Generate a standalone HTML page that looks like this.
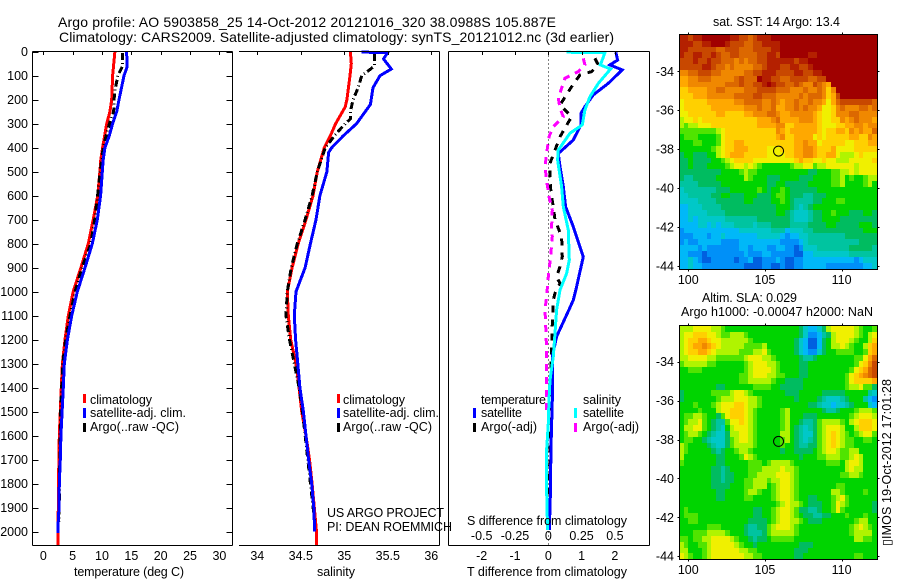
<!DOCTYPE html>
<html>
<head>
<meta charset="utf-8">
<style>
html,body{margin:0;padding:0;background:#fff;}
svg{display:block;font-family:"Liberation Sans",Arial,sans-serif;font-size:12.5px;fill:#000;}
.ln{fill:none;stroke-linejoin:miter;shape-rendering:crispEdges;}
.ax{stroke:#000;stroke-width:1;fill:none;shape-rendering:crispEdges;}
</style>
</head>
<body>
<svg id="chart" xmlns="http://www.w3.org/2000/svg" width="900" height="580" viewBox="0 0 900 580">
<rect width="900" height="580" fill="#fff"/>
<text x="58" y="27" font-size="14" textLength="498" lengthAdjust="spacing">Argo profile: AO 5903858_25 14-Oct-2012 20121016_320 38.0988S 105.887E</text>
<text x="59" y="42" font-size="14" textLength="555" lengthAdjust="spacing">Climatology: CARS2009. Satellite-adjusted climatology: synTS_20121012.nc (3d earlier)</text>
<g id="maps"></g>
<g id="panels"></g>
<g id="ticks"></g>

<text x="74" y="576" textLength="110" lengthAdjust="spacing">temperature (deg C)</text>
<text x="317" y="576" textLength="38" lengthAdjust="spacing">salinity</text>
<text x="467" y="576" textLength="160" lengthAdjust="spacing">T difference from climatology</text>
<text x="467" y="525" textLength="160" lengthAdjust="spacing">S difference from climatology</text>

<g>
<rect x="83" y="394" width="3" height="9" fill="#f00"/>
<rect x="83" y="408" width="3" height="10" fill="#00f"/>
<rect x="83" y="423" width="3" height="9" fill="#000"/>
<text x="90" y="404" textLength="62" lengthAdjust="spacing">climatology</text>
<text x="90" y="417" textLength="96" lengthAdjust="spacing">satellite-adj. clim.</text>
<text x="90" y="431" textLength="89" lengthAdjust="spacing">Argo(..raw -QC)</text>
</g>
<g>
<rect x="337" y="394" width="3" height="9" fill="#f00"/>
<rect x="337" y="408" width="3" height="10" fill="#00f"/>
<rect x="337" y="423" width="3" height="9" fill="#000"/>
<text x="343" y="404" textLength="62" lengthAdjust="spacing">climatology</text>
<text x="343" y="417" textLength="96" lengthAdjust="spacing">satellite-adj. clim.</text>
<text x="343" y="431" textLength="89" lengthAdjust="spacing">Argo(..raw -QC)</text>
</g>
<text x="327" y="517" textLength="117" lengthAdjust="spacing">US ARGO PROJECT</text>
<text x="327" y="531" textLength="125" lengthAdjust="spacing">PI: DEAN ROEMMICH</text>
<g>
<text x="481" y="404" textLength="65" lengthAdjust="spacing">temperature</text>
<text x="583" y="404" textLength="38" lengthAdjust="spacing">salinity</text>
<rect x="473" y="408" width="3" height="10" fill="#00f"/>
<rect x="473" y="423" width="3" height="9" fill="#000"/>
<rect x="574" y="408" width="3" height="10" fill="#0ff"/>
<rect x="574" y="423" width="3" height="9" fill="#f0f"/>
<text x="481" y="417" textLength="41" lengthAdjust="spacing">satellite</text>
<text x="481" y="431" textLength="56" lengthAdjust="spacing">Argo(-adj)</text>
<text x="583" y="417" textLength="41" lengthAdjust="spacing">satellite</text>
<text x="583" y="431" textLength="56" lengthAdjust="spacing">Argo(-adj)</text>
</g>

<text x="713" y="26" textLength="127" lengthAdjust="spacing">sat. SST: 14 Argo: 13.4</text>
<text x="702" y="302" textLength="95" lengthAdjust="spacing">Altim. SLA: 0.029</text>
<text x="681" y="316" textLength="192" lengthAdjust="spacing">Argo h1000: -0.00047 h2000: NaN</text>
<text transform="translate(891 546) rotate(-90)" textLength="167" lengthAdjust="spacing">▯IMOS 19-Oct-2012 17:01:28</text>
</svg>
<script>
const depthTickLabels = [0,100,200,300,400,500,600,700,800,900,1000,1100,1200,1300,1400,1500,1600,1700,1800,1900,2000];
const tempTickLabels = [0,5,10,15,20,25,30];
const salTickLabels = [34,34.5,35,35.5,36];
const tDiffTickLabels = [-2,-1,0,1,2];
const sDiffTickLabels = [-0.5,-0.25,0,0.25,0.5];
const lonTickLabels = [100,105,110];
const latTickLabels = [-34,-36,-38,-40,-42,-44];

const tempClimDepth = [0,100,200,250,300,400,450,500,600,700,800,900,1000,1100,1200,1300,1400,1500,1600,1700,1800,1900,2000,2055];
const tempClimValue = [12.2,11.8,11.65,11.35,10.8,10.1,9.8,9.65,9.27,8.5,7.67,6.4,5.1,4.26,3.7,3.25,3.07,2.9,2.73,2.67,2.55,2.55,2.5,2.5];
const tempSatDepth = [0,65,100,200,250,300,350,400,450,500,600,700,800,900,1000,1100,1200,1300,1400,1500,1600,1700,1800,1900,1950,2005];
const tempSatValue = [14.2,14.25,13.75,12.9,12.5,11.8,11.25,10.5,10.2,10.05,9.77,9.2,8.35,7.1,5.8,4.84,4.1,3.58,3.4,3.2,3.0,2.9,2.73,2.67,2.55,2.5];
const tempArgoDepth = [5,60,100,150,200,250,280,350,400,500,600,700,800,900,1000,1100,1200,1300,1500,1800,1960];
const tempArgoValue = [13.45,13.5,12.7,12.3,12.05,12,11.5,10.7,10.2,9.7,9.25,8.75,8.1,6.6,5.4,4.55,3.8,3.3,2.95,2.75,2.7];

const salClimDepth = [0,50,100,200,230,300,350,400,500,600,700,800,900,1000,1100,1200,1300,1400,1500,1600,1700,1800,1900,2000,2055];
const salClimValue = [35.07,35.08,35.065,35.03,35.01,34.9,34.84,34.77,34.69,34.64,34.56,34.47,34.4,34.345,34.356,34.384,34.445,34.48,34.51,34.56,34.6,34.63,34.655,34.68,34.68];
const salSatDepth = [2,3,30,72,100,150,220,300,350,400,420,500,600,700,800,900,1000,1100,1200,1300,1400,1500,1600,1700,1800,1900,2000];
const salSatValue = [35.2,35.5,35.45,35.54,35.41,35.33,35.3,35.14,34.99,34.855,34.82,34.8,34.72,34.675,34.61,34.55,34.445,34.425,34.44,34.465,34.49,34.53,34.56,34.59,34.625,34.65,34.66];
const salArgoDepth = [10,60,70,100,150,200,250,280,300,340,400,500,600,700,800,900,1000,1100,1200,1300,1400,1500,1960];
const salArgoValue = [35.345,35.345,35.31,35.2,35.16,35.1,35.07,35.07,35.01,34.91,34.78,34.69,34.63,34.55,34.46,34.39,34.345,34.33,34.37,34.425,34.48,34.52,34.66];

const tDiffSatDepth = [3,35,55,76,132,180,229,257,305,368,424,479,562,646,729,854,979,1035,1076,1187,1271,1451,1646,1854,1993];
const tDiffSatValue = [2.03,2.08,1.85,2.22,1.8,1.35,1.1,0.98,0.98,0.75,0.3,0.35,0.45,0.52,0.75,1.05,0.85,0.75,0.62,0.25,0.12,0.12,0.08,0.06,0.03];
const tDiffArgoDepth = [28,55,83,97,146,222,243,271,354,410,465,521,590,646,701,771,854,896,938,965,1007,1035,1132,1257,1410,1646,1965];
const tDiffArgoValue = [1.4,1.5,1.3,0.95,0.7,0.35,0.5,0.7,0.35,0.2,0.05,0.05,0.08,0.15,0.2,0.4,0.42,0.35,0.25,0.35,0.2,0.15,0.12,0.1,0.05,0.05,0.02];
const sDiffSatDepth = [2,4,42,55,72,132,188,243,305,340,410,451,562,646,743,868,924,993,1035,1076,1173,1271,1368,1451,1549,1660,1826,1993];
const sDiffSatValue = [0.1375,0.425,0.4,0.39,0.4675,0.375,0.3125,0.275,0.255,0.1625,0.075,0.07,0.1,0.1125,0.15,0.1575,0.1375,0.0875,0.075,0.0625,0.05,0.0375,0.0125,0.005,0,-0.0125,-0.0125,-0.005];
const sDiffArgoDepth = [28,55,83,111,153,194,236,271,312,354,424,479,535,604,660,729,771,854,938,1021,1076,1132,1243,1368,1507];
const sDiffArgoValue = [0.2625,0.275,0.225,0.125,0.1,0.075,0.0875,0.1125,0.0375,0.005,-0.0125,-0.025,-0.0125,0.005,0.03,0.025,0.03,0.0175,0,-0.0125,-0.025,-0.02,-0.0125,-0.0125,-0.0125];

/* Map cells: one letter per 0.3 degree cell; a (lowest) to q (highest). */
const sstRows = [
"ppoppqqqqq qppoonoppp qqqqqqqqqq qqqqqqqqqq qqq",
"pppooppqqq pooonnoopp ppqqqqqqqq qqqqqqqqqq qqq",
"ppoooooonn ooonnnoooo ppqqqqqqqq qqqqqqqqqq qqq",
"pooppoopon noonnnnoop poqqqqqqpp qqqqqqqqqq qqq",
"ooopoopoon nnmnmnnoop pppppoppqq qqqqqqqqqq qqq",
"ooooopponn mnmmmmnnop ppooppoopq qqqqqqqqqq qqq",
"mmnnooonnm mmmmnnoopp pooooppoop pqqqqqqqqq qqq",
"llmmnnnmmm mmnonnnqpp oonnoooonn ooqqqqqqqq qqq",
"llmmmmmmmm nnnonnoopq poonnonmmo nmlqqqqqqq qqq",
"kkllllmmnn mmmmnnnooo onnnmmmnmm nmkmqqqqqq qqq",
"kkklllmmmm mmnnnnoonn nmmmmmnmnn nmkloqqqqq qqq",
"jkkkkkllll llmmnnnnmm nmlmmnmmnm mljlnooooo oon",
"jkkkkkklll llllmmmnmm nllmmnmnmm ljjkmnmmmn nmn",
"jjkkkkkkll kkkkllmmmn nmllmmmmml kjjkmmmnnm mmm",
"ijjkjkkkkk kkkkkkklll mnllllmmml kjjkkmlmnm mml",
"ihiijjjkkk kkkkkkklll lmmkklllll kjjjkkllmm lmm",
"hhhhhhhhij kkkkkkkkkk kmlkllllll kjkkllkmlm lln",
"ghhhgggghj kkkkkkkkkk klmkkllllj kjkkkkkllk kml",
"ggghhggghj kkllkkkkkk kkkkkllmll jkkkkkjjkk kll",
"ggggggghij kklllkkkkj jjkkkllmml kkkljjjjkk kkk",
"fggfffggij klllkkkkkj jjjkkllmml kklljiiijk jjj",
"ffgffffggh ijkkkkjjjj jjjjjklkkj jkjjiiijjj jjk",
"ffgfffgggg hijjijihgg gggghiijjh iijjjjjjij jjj",
"fffffffffg ggghihhggg ggggggggff ggghhiijij jjj",
"feefffffgg ggggihgggf ffggggfffg ggghhighgg hii",
"eeeefffffg gggggggggf fggfffffgg ggghhigggg hig",
"deeeeeeeff fgggggghgf gghgffffff gggggggggg ggg",
"ddeeeeeffg gfffgggfff ghhgfffeef ffgggggggg ggg",
"ddddeeeeff ffffggffff gghgfeeeef fggghhgggg ggg",
"ccdddeeeef ffffffffff fgggfedefg gggggggggg ggg",
"ccddddeeee ffffffffff fggfedddef fgghgggfff ggf",
"ccdcdddddd eeeeeeefff ffffedddef fggggfffff fff",
"ccccddcdcd ddeeeedeee ffffeeeeff ffggfffffg ggf",
"bccccccccc cccddddddd eeecdddeef ffffffffff ggg",
"bbbcccbccd cccccccddd ddcbccddee eeeeeeffff fff",
"bcbbcccccb bbbccccccc ccbbbbcdee eeeeeeeeef fff",
"ccccbcbbbb bbbccbcccb bccbbabddd eeeeeeefff ffe",
"ccbbbabbbb bbbbcbbbcc bbbbbaaccd dddddddeee eee",
"ccdcbaabbb bbabbcaabb bcbaabbccc ccccccccbc ddd",
"ccdccbbbbb bbbbaaaabb aabaabbccc ccbbbbbbbb ccd"
];
const slaRows = [
"iiijjjjiih gggggggggg ggggggfdcc dfijjjjjih ggh",
"ijjkkkjjih hiiihggggg ggggggfdbb cefijjjjih gij",
"ijkkllkjji iiiiihgggg gggggfdcaa cfgijjjihg gik",
"ijkllmlkji iiiihhhhig gggggfdcaa cfgiijihgg ikl",
"ijkkllkjii iiihhhiijh gggggfdcbb dfgghhhhgg hkl",
"iijjjjiihh hhhhijjjii hgggggfeef gggggggghh jln",
"hiiiiihhgg gggghijjji ihggggffgg gggggggghj kmo",
"gghhhggggg gggghijjjj ihggggffgg ggggggghjk lno",
"gggggggggg ggghhijjji ihhgggffgg gggggghjkl mno",
"gggggggggg ggghhiiiii hggffffggg gggggghjkk kkl",
"ggggggggff gggggghhhh ggfffffggg gggggghiij hhf",
"fgggggghhh hijjihgggg gggfffgggg gfffffgggg ged",
"fggggggghi iijjjiihgg gggggfgggg fedddefggg ecb",
"ggghggghij jjkkjiihgg ggggggggff eddcddefgg gdc",
"gggghgggij jkkkjihggg gghigggggg gfeefggghi iih",
"ghhiihggfh jkkkjihggg gghigggfff ggggggghij jji",
"ghiijhgfee hjjkjihggg gghiggfeef hiiiihgijk kkj",
"giijjhgfed gijjjihggg gghigfedef hijjjiggik kkj",
"ghiihgfedd fiijjihggg ggiigfeddf hijkjihghi jjh",
"ghhggfeddd fhijjihggg gghigfedef hijkjihhgg hhg",
"ihggggfedd fhiiiihggg gghggfeeff hijkjihhgg ggg",
"ihgggggfef gghiihgggg ggfggffffg hijjihhiig ggg",
"igggggggff ggghjihggg ggggggfggg hhiiihhiji ggg",
"hgggggggff ggggghhhgh iiiihggggg gghhhgijji ggg",
"gggggggffe fgggghhhii iijiihgggg ggggggijii ggg",
"gggggggffe ffggghhiii ijjjihgggg ggggghhiih ggg",
"gggggggffe ffgghhiiih iijjihgggg gggggggggg ggg",
"gggggggfff fggghhiiig hijjihgggg gggghhgggg ggg",
"ggggggggff gggghiihgg hijjihgggg gggiihgggg hgg",
"ggggggggff gggghhgggg hijjihggff ggghijhggg ggg",
"gggggggggg gggggggggg ghijiihgff fgghjihggg ggf",
"ghgggggggg ggggggffgg hijjihffee fgghjhgggg ggf",
"ghhhgggggg ggggggffgg hijjihgffe effggghggg hgg",
"gghhgggggg gggggffffg hijjiihgff fggggggghi igg",
"gggggghhhg ggggfeeffh ijjjihgggg ggggggghij ihg",
"ggghhhiiii hgggfeeefh iiiiihgggg ggggggghii iig",
"hhghhiijjj jihggfeffg hhhhhggggg ggggggggii hhg",
"ihgghhijjj jjihggfggg ggggggfffg gggggggggg ggg",
"iiggghijjj jjjiihhggg gggggfffgg gggggggggg ggg",
"jihgghijjj jjjjiihhgg gggggffggg gggggggghh ggg"
];
const profileLon = 105.887;
const profileLat = -38.0988;

const NS = 'http://www.w3.org/2000/svg';
const panelsG = document.getElementById('panels');
const ticksG = document.getElementById('ticks');
const mapsG = document.getElementById('maps');

const yDepth = d => 51.7 + d * 0.24;
const xTemp = v => 43.3 + v * 5.87;
const xSal = v => 257.3 + (v - 34) * 87;
const xTDiff = v => 548.3 + v * 33.3;
const xSDiff = v => 548.3 + v * 133.2;
const xLon = v => 688.3 + (v - 100) * 15.33;
const ySst = v => 71.3 + (-34 - v) * 19.47;
const ySla = v => 361.7 + (-34 - v) * 19.45;
const bottomY = 545.3;

const levelLetters = 'abcdefghijklmnopq';
const levelColors = ['#0060e0','#0090f8','#00b8f8','#00c8c8','#00c4a0','#00bc60','#00d400','#50e400','#b0f400','#f0f000','#ffd000','#ffa800','#f08800','#dc6800','#c84800','#b42000','#a00000'];
const cellColor = letter => levelColors[levelLetters.indexOf(letter)];

function mk(tag, parent) {
  const el = document.createElementNS(NS, tag);
  parent.appendChild(el);
  return el;
}
function drawLine(parent, x1, y1, x2, y2) {
  const el = mk('line', parent);
  el.setAttribute('x1', x1);
  el.setAttribute('y1', y1);
  el.setAttribute('x2', x2);
  el.setAttribute('y2', y2);
  el.setAttribute('class', 'ax');
  return el;
}
function drawLabel(parent, x, y, text, anchor) {
  const el = mk('text', parent);
  el.setAttribute('x', x);
  el.setAttribute('y', y);
  el.setAttribute('text-anchor', anchor);
  el.textContent = text;
  return el;
}
function drawSeries(depths, values, xFn, color, width, dash) {
  const el = mk('polyline', panelsG);
  el.setAttribute('points', depths.map((d, i) => xFn(values[i]).toFixed(1) + ',' + yDepth(d).toFixed(1)).join(' '));
  el.setAttribute('class', 'ln');
  el.setAttribute('stroke', color);
  el.setAttribute('stroke-width', width);
  if (dash) el.setAttribute('stroke-dasharray', dash);
  return el;
}
function drawFrame(name, x1, x2, hasLeft) {
  const g = mk('g', ticksG);
  
  
  drawLine(g, x1, 51.5, x2, 51.5);
  drawLine(g, x1, bottomY, x2, bottomY);
  drawLine(g, x2, 51.5, x2, bottomY);
  if (hasLeft) drawLine(g, x1, 51.5, x1, bottomY);
  return g;
}

/* temperature panel */
let s;
s = drawSeries(tempClimDepth, tempClimValue, xTemp, '#f00', 3);


s = drawSeries(tempArgoDepth, tempArgoValue, xTemp, '#000', 3, '7 3 1 3');


s = drawSeries(tempSatDepth, tempSatValue, xTemp, '#00f', 3);



/* salinity panel */
s = drawSeries(salClimDepth, salClimValue, xSal, '#f00', 3);


s = drawSeries(salArgoDepth, salArgoValue, xSal, '#000', 3, '7 3 1 3');


s = drawSeries(salSatDepth, salSatValue, xSal, '#00f', 3);



/* difference panel */
const zeroLine = mk('line', panelsG);
zeroLine.setAttribute('x1', xTDiff(0));
zeroLine.setAttribute('x2', xTDiff(0));
zeroLine.setAttribute('y1', 51.5);
zeroLine.setAttribute('y2', bottomY);
zeroLine.setAttribute('stroke', '#000');
zeroLine.setAttribute('stroke-dasharray', '1 3');
zeroLine.setAttribute('shape-rendering', 'crispEdges');


s = drawSeries(tDiffArgoDepth, tDiffArgoValue, xTDiff, '#000', 3, '7 7');


s = drawSeries(sDiffArgoDepth, sDiffArgoValue, xSDiff, '#f0f', 3, '7 6');


s = drawSeries(tDiffSatDepth, tDiffSatValue, xTDiff, '#00f', 3);


s = drawSeries(sDiffSatDepth, sDiffSatValue, xSDiff, '#0ff', 3);



/* frames and ticks */
const tempFrame = drawFrame('temperature-axes', 32.5, 232.5, true);
const salFrame = drawFrame('salinity-axes', 239, 439.5, false);
const diffFrame = drawFrame('difference-axes', 448.5, 649.5, true);

depthTickLabels.forEach(d => {
  const y = Math.round(yDepth(d)) + 0.5;
  drawLine(tempFrame, 32.5, y, 38.5, y);
  drawLine(tempFrame, 226.5, y, 232.5, y);
  const t = drawLabel(tempFrame, 28, yDepth(d) + 4.5, d, 'end');
  
  
});
tempTickLabels.forEach(v => {
  const x = Math.round(xTemp(v)) + 0.5;
  drawLine(tempFrame, x, 51.5, x, 55);
  const t = drawLabel(tempFrame, xTemp(v), 560, v, 'middle');
  
  
});
salTickLabels.forEach(v => {
  const x = Math.round(xSal(v)) + 0.5;
  drawLine(salFrame, x, 51.5, x, 55);
  const t = drawLabel(salFrame, xSal(v), 560, v, 'middle');
  
  
});
tDiffTickLabels.forEach(v => {
  const x = Math.round(xTDiff(v)) + 0.5;
  drawLine(diffFrame, x, 51.5, x, 55);
  const t = drawLabel(diffFrame, xTDiff(v), 560, String(v), 'middle');
  
  
});
sDiffTickLabels.forEach(v => {
  const t = drawLabel(diffFrame, xSDiff(v), 540, String(v), 'middle');
  
  
});

/* maps */
function drawMap(name, rows, yFn, labelBaseline) {
  const g = mk('g', mapsG);
  
  
  const lon0 = 99.41, lat0 = yFn === ySst ? -32.13 : -32.16, step = 0.3;
  const topY = yFn(lat0), botY = yFn(lat0 - rows.length * step);
  rows.forEach((row, r) => {
    row.replace(/ /g, '').split('').forEach((letter, c) => {
      const x0 = Math.round(xLon(lon0 + c * step));
      const x1 = Math.round(xLon(lon0 + (c + 1) * step));
      const y0 = Math.round(yFn(lat0 - r * step));
      const y1 = Math.round(yFn(lat0 - (r + 1) * step));
      const cell = mk('rect', g);
      cell.setAttribute('x', x0);
      cell.setAttribute('y', y0);
      cell.setAttribute('width', x1 - x0);
      cell.setAttribute('height', y1 - y0);
      cell.setAttribute('fill', cellColor(letter));
      cell.setAttribute('shape-rendering', 'crispEdges');
      
      
    });
  });
  const left = 679.5, right = 877.5, top = Math.round(topY) - 0.5, bot = Math.round(botY) + 0.5;
  const frame = mk('rect', g);
  frame.setAttribute('x', left);
  frame.setAttribute('y', top);
  frame.setAttribute('width', right - left);
  frame.setAttribute('height', bot - top);
  frame.setAttribute('class', 'ax');
  
  
  lonTickLabels.forEach(v => {
    const x = Math.round(xLon(v)) + 0.5;
    drawLine(g, x, top - 2, x, top);
    drawLine(g, x, bot, x, bot + 2);
    const t = drawLabel(g, xLon(v), labelBaseline, v, 'middle');
    
    
  });
  latTickLabels.forEach(v => {
    const y = Math.round(yFn(v)) + 0.5;
    drawLine(g, left - 2, y, left, y);
    drawLine(g, right, y, right + 2, y);
    const t = drawLabel(g, 674, yFn(v) + 4.5, v, 'end');
    
    
  });
  const marker = mk('circle', g);
  marker.setAttribute('cx', xLon(profileLon));
  marker.setAttribute('cy', yFn(profileLat));
  marker.setAttribute('r', 5);
  marker.setAttribute('fill', 'none');
  marker.setAttribute('stroke', '#000');
  
  
}
drawMap('sst-map', sstRows, ySst, 284);
drawMap('sla-map', slaRows, ySla, 574);
</script>
</body>
</html>
